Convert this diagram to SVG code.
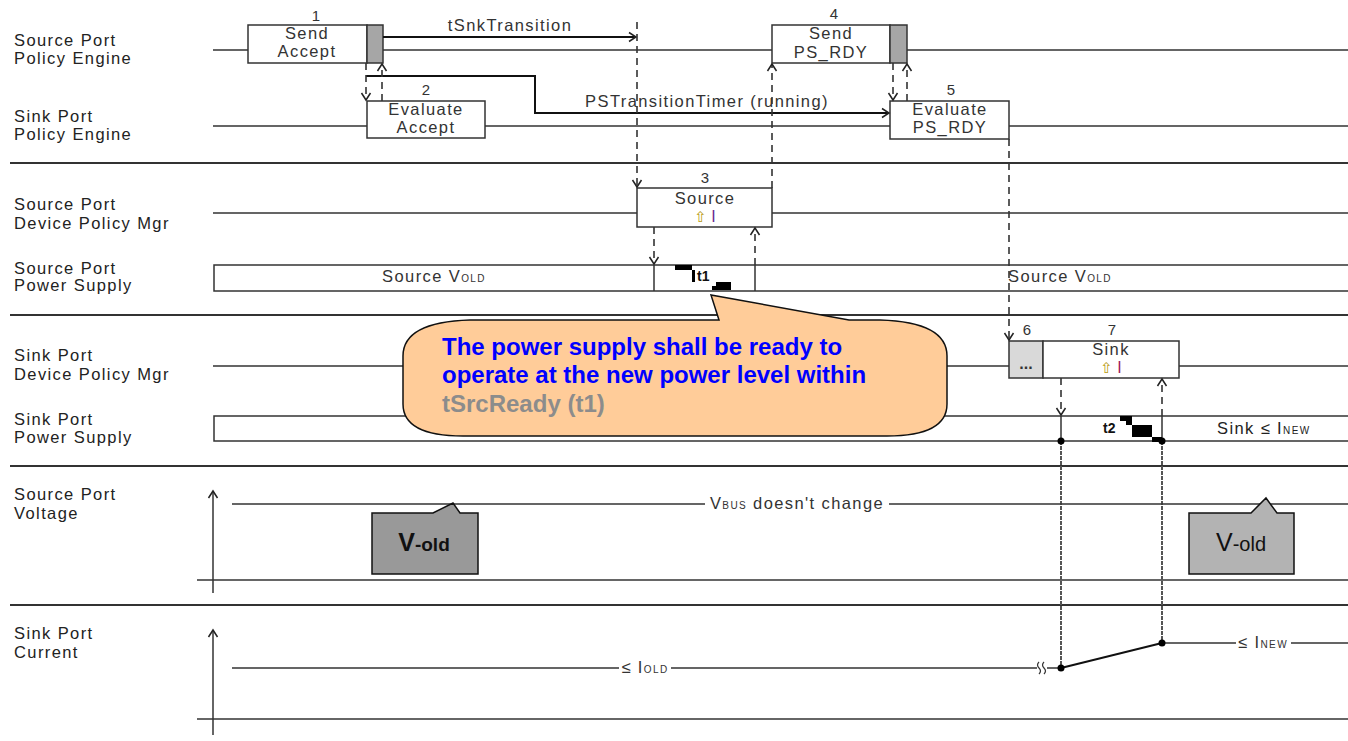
<svg xmlns="http://www.w3.org/2000/svg" width="1348" height="741" viewBox="0 0 1348 741">
<style>
text{font-family:"Liberation Sans",Arial,sans-serif}
.lbl{font-size:16.5px;letter-spacing:1.4px;fill:#222}
.bt{font-size:16.5px;letter-spacing:1.4px;fill:#333;text-anchor:middle}
.num{font-size:15px;fill:#333;text-anchor:middle}
.ln{stroke:#333;stroke-width:1.5;fill:none}
.sep{stroke:#333;stroke-width:2}
.box{fill:#fff;stroke:#333;stroke-width:1.5}
.blk{fill:#a6a6a6;stroke:#333;stroke-width:1.5}
.dash{stroke:#333;stroke-width:1.6;stroke-dasharray:7,5;fill:none}
.arr{stroke:#111;stroke-width:2;fill:none}
.gv{stroke:#555;stroke-width:2;stroke-dasharray:4,1;fill:none}
.sub{font-size:10px}
.co{font-size:24px;font-weight:bold;fill:#0000ff}
.co2{font-size:24px;font-weight:bold;fill:#8c8c8c}
</style>
<defs>
<marker id="ah" viewBox="-9 -6 11 12" refX="0" refY="0" markerWidth="11" markerHeight="12" markerUnits="userSpaceOnUse" orient="auto">
<path d="M-7,-4.5 L0,0 L-7,4.5" fill="none" stroke="#222" stroke-width="1.5"/>
</marker>
</defs>

<g id="labels">
<text class="lbl" x="14" y="46">Source Port</text>
<text class="lbl" x="14" y="64">Policy Engine</text>
<text class="lbl" x="14" y="122">Sink Port</text>
<text class="lbl" x="14" y="140">Policy Engine</text>
<text class="lbl" x="14" y="210">Source Port</text>
<text class="lbl" x="14" y="229">Device Policy Mgr</text>
<text class="lbl" x="14" y="274">Source Port</text>
<text class="lbl" x="14" y="291">Power Supply</text>
<text class="lbl" x="14" y="361">Sink Port</text>
<text class="lbl" x="14" y="380">Device Policy Mgr</text>
<text class="lbl" x="14" y="425">Sink Port</text>
<text class="lbl" x="14" y="443">Power Supply</text>
<text class="lbl" x="14" y="500">Source Port</text>
<text class="lbl" x="14" y="519">Voltage</text>
<text class="lbl" x="14" y="639">Sink Port</text>
<text class="lbl" x="14" y="658">Current</text>
</g>

<g id="lanes">
<line class="sep" x1="10" y1="163" x2="1348" y2="163"/>
<line class="sep" x1="10" y1="315" x2="1348" y2="315"/>
<line class="sep" x1="10" y1="466" x2="1348" y2="466"/>
<line class="sep" x1="10" y1="605" x2="1348" y2="605"/>
<path class="ln" d="M213,50 H248 M383,50 H772 M907,50 H1348"/>
<path class="ln" d="M213,126 H367 M485,126 H890 M1009,126 H1348"/>
<path class="ln" d="M213,213 H637 M772,213 H1348"/>
<path class="ln" d="M213,366 H1009 M1179,366 H1348"/>
<path class="ln" d="M1348,265 H214 V291 H1348"/>
<path class="ln" d="M1348,416 H214 V441 H1348"/>
<line class="ln" x1="654" y1="265" x2="654" y2="291"/>
<line class="ln" x1="755" y1="265" x2="755" y2="291"/>
<line class="ln" x1="1061" y1="416" x2="1061" y2="441"/>
<line class="ln" x1="1162" y1="416" x2="1162" y2="441"/>
<line class="ln" x1="197" y1="580" x2="1348" y2="580"/>
<line class="ln" x1="197" y1="719" x2="1348" y2="719"/>
<line class="ln" x1="213" y1="593" x2="213" y2="491" marker-end="url(#ah)"/>
<line class="ln" x1="213" y1="735" x2="213" y2="630" marker-end="url(#ah)"/>
</g>

<g id="node1">
<rect class="box" x="248" y="25" width="119" height="38"/>
<rect class="blk" x="367" y="25" width="16" height="38"/>
<text class="num" x="316" y="21">1</text>
<text class="bt" x="307" y="39">Send</text>
<text class="bt" x="307" y="57">Accept</text>
</g>
<g id="node2">
<rect class="box" x="367" y="101" width="118" height="37"/>
<text class="num" x="426" y="95">2</text>
<text class="bt" x="426" y="115">Evaluate</text>
<text class="bt" x="426" y="133">Accept</text>
</g>
<g id="node3">
<rect class="box" x="637" y="188" width="135" height="39"/>
<text class="num" x="705" y="183">3</text>
<text class="bt" x="705" y="204">Source</text>
<text x="705" y="222" text-anchor="middle" font-size="15"><tspan font-family="DejaVu Sans" fill="#b89a10">⇧</tspan><tspan fill="#6a2c91" font-size="16"> I</tspan></text>
</g>
<g id="node4">
<rect class="box" x="772" y="25" width="118" height="38"/>
<rect class="blk" x="890" y="25" width="17" height="38"/>
<text class="num" x="834" y="19">4</text>
<text class="bt" x="831" y="39">Send</text>
<text class="bt" x="831" y="58">PS_RDY</text>
</g>
<g id="node5">
<rect class="box" x="890" y="101" width="119" height="38"/>
<text class="num" x="951" y="95">5</text>
<text class="bt" x="950" y="115">Evaluate</text>
<text class="bt" x="950" y="133">PS_RDY</text>
</g>
<g id="node6">
<rect x="1009" y="341" width="34" height="37" fill="#d9d9d9" stroke="#333" stroke-width="1.5"/>
<text class="num" x="1027" y="335">6</text>
<text x="1026" y="369" text-anchor="middle" font-size="16" font-weight="bold" fill="#333">...</text>
</g>
<g id="node7">
<rect class="box" x="1043" y="341" width="136" height="37"/>
<text class="num" x="1112" y="335">7</text>
<text class="bt" x="1111" y="355">Sink</text>
<text x="1111" y="373" text-anchor="middle" font-size="15"><tspan font-family="DejaVu Sans" fill="#b89a10">⇧</tspan><tspan fill="#a0205a" font-size="16"> I</tspan></text>
</g>

<g id="connectors">
<line class="arr" x1="383" y1="37" x2="636" y2="37" marker-end="url(#ah)"/>
<text class="bt" x="510" y="31">tSnkTransition</text>
<polyline class="arr" points="366,76 535,76 535,113 889,113" marker-end="url(#ah)"/>
<text class="bt" x="707" y="107">PSTransitionTimer (running)</text>
<line class="dash" x1="637" y1="22" x2="637" y2="187" marker-end="url(#ah)"/>
<line class="dash" x1="366" y1="63" x2="366" y2="100" marker-end="url(#ah)"/>
<line class="dash" x1="382" y1="101" x2="382" y2="64" marker-end="url(#ah)"/>
<line class="dash" x1="772" y1="188" x2="772" y2="64" marker-end="url(#ah)"/>
<line class="dash" x1="893" y1="63" x2="893" y2="100" marker-end="url(#ah)"/>
<line class="dash" x1="907" y1="101" x2="907" y2="64" marker-end="url(#ah)"/>
<line class="dash" x1="654" y1="227" x2="654" y2="264" marker-end="url(#ah)"/>
<line class="dash" x1="755" y1="265" x2="755" y2="228" marker-end="url(#ah)"/>
<line class="dash" x1="1009" y1="139" x2="1009" y2="340" marker-end="url(#ah)"/>
<line class="dash" x1="1061" y1="378" x2="1061" y2="415" marker-end="url(#ah)"/>
<line class="dash" x1="1162" y1="416" x2="1162" y2="379" marker-end="url(#ah)"/>
<line class="gv" x1="1061" y1="441" x2="1061" y2="668"/>
<line class="gv" x1="1162" y1="441" x2="1162" y2="643"/>
</g>

<g id="power">
<text class="bt" x="434" y="282">Source V<tspan class="sub">OLD</tspan></text>
<text class="bt" x="1060" y="282">Source V<tspan class="sub">OLD</tspan></text>
<rect x="675" y="265" width="17" height="5" fill="#000"/>
<rect x="692" y="270" width="3" height="12" fill="#000"/>
<text x="697" y="281" font-size="14" font-weight="bold" fill="#111">t1</text>
<rect x="716" y="282" width="15" height="8" fill="#000"/>
<rect x="712" y="286" width="5" height="4" fill="#000"/>
<text x="1103" y="433" font-size="14" font-weight="bold" fill="#111">t2</text>
<polygon points="1120,416 1132,416 1132,425 1152,425 1152,437 1162,437 1162,442 1152,442 1152,437 1132,437 1132,425 1126,425 1126,421 1120,421" fill="#000"/>
<text class="lbl" x="1217" y="434">Sink ≤ I<tspan class="sub">NEW</tspan></text>
<circle cx="1061" cy="441" r="3.5" fill="#000"/>
<circle cx="1162" cy="441" r="3.5" fill="#000"/>
</g>

<g id="voltage">
<path class="ln" d="M232,504 H705 M889,504 H1348"/>
<text class="bt" x="797" y="509">V<tspan class="sub">BUS</tspan> doesn't change</text>
</g>
<g id="vold-left">
<path d="M372,513 L433,513 L453,503 L460,513 L478,513 L478,574 L372,574 Z" fill="#999" stroke="#111" stroke-width="1.5"/>
<text x="424" y="551" text-anchor="middle" font-weight="bold" fill="#111"><tspan font-size="25">V</tspan><tspan font-size="19">-old</tspan></text>
</g>
<g id="vold-right">
<path d="M1189,513 L1251,513 L1266,498 L1277,513 L1294,513 L1294,574 L1189,574 Z" fill="#b3b3b3" stroke="#111" stroke-width="1.5"/>
<text x="1241" y="551" text-anchor="middle" fill="#111"><tspan font-size="25">V</tspan><tspan font-size="20">-old</tspan></text>
</g>

<g id="current">
<path class="ln" d="M232,668 H619 M671,668 H1037 M1047,668 H1061" stroke-width="1.8"/>
<text class="bt" x="645" y="673">≤ I<tspan class="sub">OLD</tspan></text>
<path d="M1039,662 q-3,3 0,6 q3,3 0,6 M1044,662 q-3,3 0,6 q3,3 0,6" fill="none" stroke="#333" stroke-width="1.2"/>
<line x1="1061" y1="668" x2="1162" y2="643" stroke="#111" stroke-width="2"/>
<path class="ln" d="M1162,643 H1236 M1291,643 H1348" stroke-width="1.8"/>
<text class="bt" x="1263" y="648">≤ I<tspan class="sub">NEW</tspan></text>
<circle cx="1061" cy="668" r="3.5" fill="#000"/>
<circle cx="1162" cy="643" r="3.5" fill="#000"/>
</g>

<g id="callout">
<path d="M470,320 L719,320 L711,295 L849,320 L880,320 Q947,322 947,356 L947,404 Q947,436 887,436 L463,436 Q403,436 403,404 L403,356 Q403,322 470,320 Z" fill="#ffcc99" stroke="#111" stroke-width="1.5"/>
<text class="co" x="442" y="355">The power supply shall be ready to</text>
<text class="co" x="442" y="383">operate at the new power level within</text>
<text class="co2" x="442" y="412">tSrcReady (t1)</text>
</g>
</svg>
